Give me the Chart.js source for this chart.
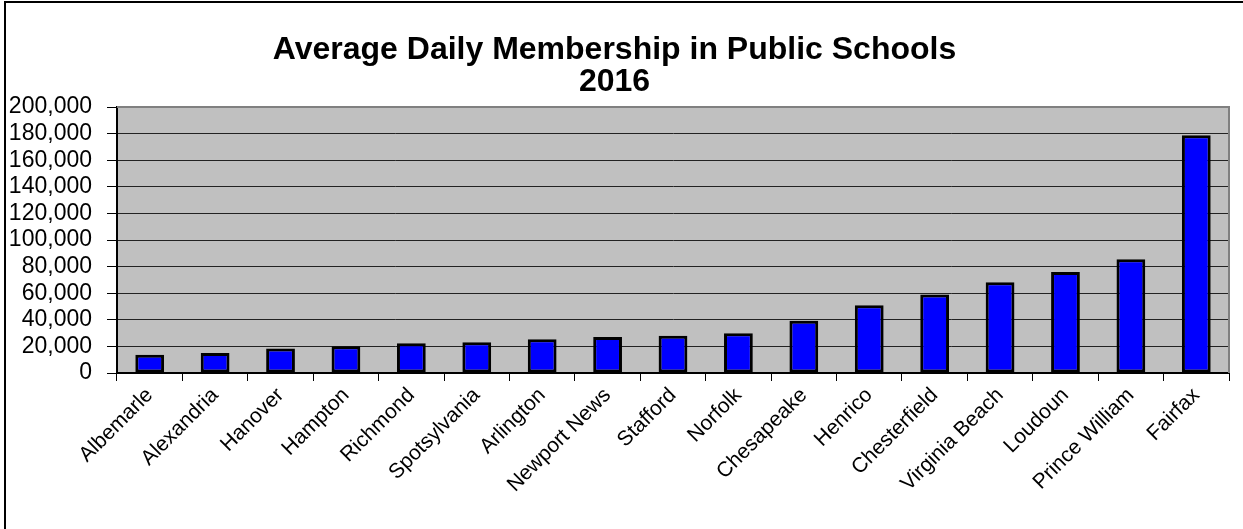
<!DOCTYPE html>
<html>
<head>
<meta charset="utf-8">
<title>Average Daily Membership in Public Schools 2016</title>
<script src="https://cdn.jsdelivr.net/npm/chart.js@4.4.1/dist/chart.umd.min.js"></script>
<style>
  html, body { margin: 0; padding: 0; background: #fff; }
  #wrap { position: relative; width: 1243px; height: 529px; overflow: hidden; }
  #frame {
    position: absolute; left: 4px; top: 1px; width: 1300px; height: 600px;
    border-left: 2px solid #000; border-top: 2px solid #000; pointer-events: none;
  }
</style>
</head>
<body>
<div id="wrap">
  <canvas id="adm-chart" width="1243" height="529"></canvas>
  <div id="frame"></div>
</div>
<script>
// Data
const divisions = [
  'Albemarle', 'Alexandria', 'Hanover', 'Hampton', 'Richmond', 'Spotsylvania',
  'Arlington', 'Newport News', 'Stafford', 'Norfolk', 'Chesapeake', 'Henrico',
  'Chesterfield', 'Virginia Beach', 'Loudoun', 'Prince William', 'Fairfax',
];
const membership = [
  13700, 15000, 18500, 20200, 22300, 23200,
  25400, 27100, 28100, 29800, 39300, 51000,
  59100, 68200, 76000, 85500, 178700,
];
const titleLines = ['Average Daily Membership in Public Schools', '2016'];
const yMin = 0;
const yMax = 200000;
const yStep = 20000;

const FONT = '"Liberation Sans", Arial, sans-serif';
Chart.defaults.color = '#000';
Chart.defaults.font.family = FONT;

// Grey plot background with grey top/right edge
const plotBackground = {
  id: 'plotBackground',
  beforeDraw: (chart) => {
    const { ctx, chartArea: a } = chart;
    ctx.save();
    ctx.fillStyle = '#c0c0c0';
    ctx.fillRect(a.left, a.top, a.right - a.left, a.bottom - a.top);
    ctx.restore();
  },
  afterDatasetsDraw: (chart) => {
    const { ctx, chartArea: a } = chart;
    ctx.save();
    ctx.strokeStyle = '#808080';
    ctx.lineWidth = 2;
    ctx.beginPath();
    ctx.moveTo(a.left, a.top);
    ctx.lineTo(a.right, a.top);
    ctx.lineTo(a.right, a.bottom);
    ctx.stroke();
    ctx.restore();
  },
};

const ctx = document.getElementById('adm-chart');
// eslint-disable-next-line no-unused-vars
const chart = new Chart(ctx, {
  type: 'bar',
  data: {
    labels: divisions,
    datasets: [
      {
        label: 'Average Daily Membership',
        data: membership,
        backgroundColor: '#0000ff',
        borderColor: '#000',
        borderWidth: 3,
        borderSkipped: false,
        barPercentage: 0.44,
        categoryPercentage: 1,
      },
    ],
  },
  options: {
    responsive: false,
    animation: false,
    layout: {
      padding: { top: 34, bottom: 0, left: 0, right: 14 },
    },
    scales: {
      y: {
        min: yMin,
        max: yMax,
        afterFit: (scale) => { scale.width = 117; },
        border: { display: true, color: '#000', width: 2 },
        grid: {
          color: '#222',
          lineWidth: 1,
          tickLength: 10,
          tickColor: '#000',
        },
        ticks: {
          stepSize: yStep,
          autoSkip: false,
          padding: 15,
          font: { size: 23 },
          callback: (value) => value.toLocaleString('en-US'),
        },
      },
      x: {
        afterFit: (scale) => { scale.height = 156; },
        border: { display: true, color: '#000', width: 2 },
        grid: {
          offset: true,
          drawOnChartArea: false,
          tickLength: 8,
          tickColor: '#000',
        },
        ticks: {
          minRotation: 45,
          maxRotation: 45,
          autoSkip: false,
          padding: 2,
          font: { size: 21 },
        },
      },
    },
    plugins: {
      legend: { display: false },
      tooltip: { enabled: false },
      title: {
        display: true,
        text: titleLines,
        color: '#000',
        font: { size: 32, weight: 'bold', lineHeight: 1.0 },
        padding: { top: 0, bottom: 9 },
      },
    },
  },
  plugins: [plotBackground],
});
</script>
</body>
</html>
